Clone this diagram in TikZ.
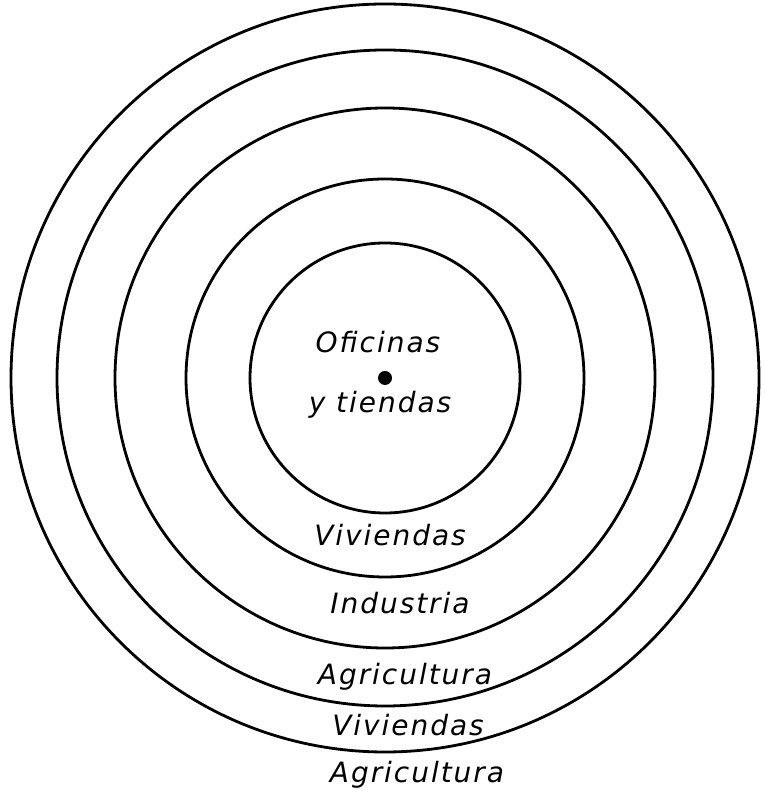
\documentclass[tikz,border=0pt]{standalone}
\usepackage{fontspec}
\setmainfont{DejaVu Sans}
\tikzset{
  zona/.style={font=\fontsize{28}{32}\selectfont\itshape\addfontfeatures{LetterSpace=7}, inner sep=0pt},
  anillo/.style={line width=2.8pt}
}
\begin{document}
\begin{tikzpicture}[x=1pt,y=1pt]
\useasboundingbox (0,0) rectangle (764,797);
\coordinate (c) at (385,419);
\foreach \r in {135,199,270,328,374} {
    \draw[anillo] (c) circle (\r);
}
\fill (c) circle (7);
\node[zona] (oficinas) at (378,455) {Oficinas};
\node[zona] (tiendas) at (380,392) {y tiendas};
\node[zona] (viv1) at (390,262) {Viviendas};
\node[zona] (ind) at (400,194) {Industria};
\node[zona] (agr1) at (405,120) {Agricultura};
\node[zona] (viv2) at (408,72) {Viviendas};
\node[zona] (agr2) at (417,22) {Agricultura};
\end{tikzpicture}
\end{document}
